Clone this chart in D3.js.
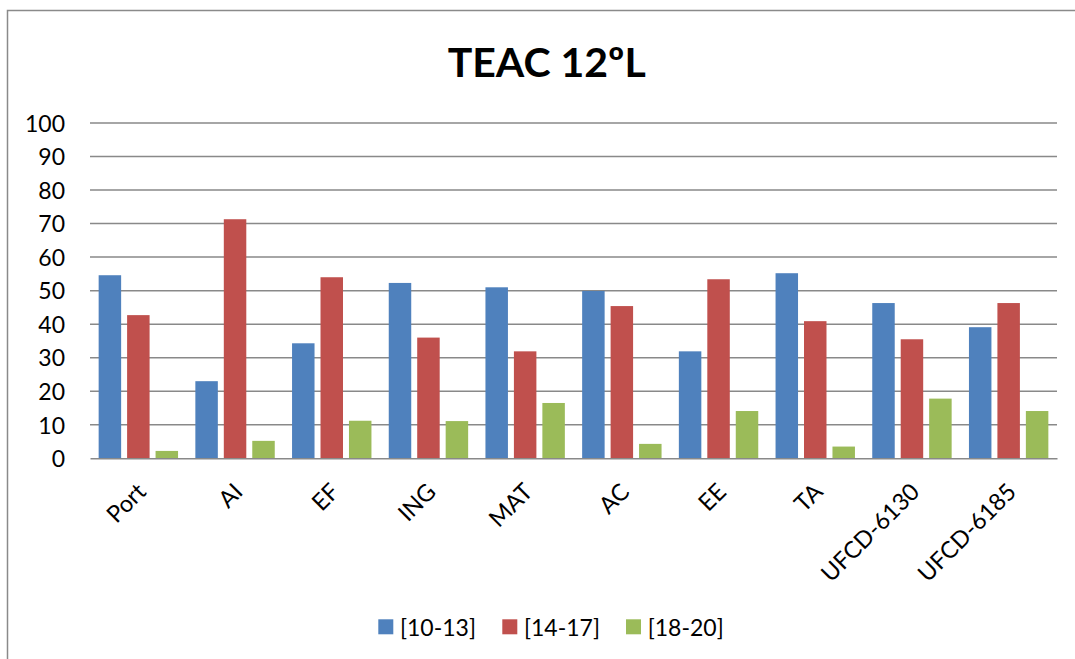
<!DOCTYPE html>
<html>
<head>
<meta charset="utf-8">
<script src="https://cdn.jsdelivr.net/npm/d3@7/dist/d3.min.js"></script>
<style>
  body { margin: 0; background: #fff; }
  svg { display: block; font-family: Lato, "Open Sans", sans-serif; }
</style>
</head>
<body>
<div id="chart"></div>
<script>
// categories (subjects) and the three grade bands
const subjects = ["Port", "AI", "EF", "ING", "MAT", "AC", "EE", "TA", "UFCD-6130", "UFCD-6185"];
const bands = ["[10-13]", "[14-17]", "[18-20]"];

// values, one array per band
const band1013 = [54.6, 23.0, 34.3, 52.3, 51.0, 49.9, 31.9, 55.2, 46.3, 39.1];
const band1417 = [42.7, 71.3, 54.0, 36.0, 31.9, 45.4, 53.4, 40.9, 35.5, 46.3];
const band1820 = [2.2, 5.2, 11.2, 11.1, 16.5, 4.3, 14.1, 3.5, 17.8, 14.1];

const yTicks = [0, 10, 20, 30, 40, 50, 60, 70, 80, 90, 100];

const colors = ["#4F81BD", "#C0504D", "#9BBB59"];

// build rows for the grouped bars
const rows = subjects.map((s, i) => ({
  subject: s,
  values: [band1013[i], band1417[i], band1820[i]]
}));

const width = 1075;
const height = 659;
const margin = { top: 123, right: 18, bottom: 200.7, left: 90 };
const graphWidth = width - margin.left - margin.right;
const graphHeight = height - margin.top - margin.bottom;

const svg = d3.select("#chart")
  .append("svg")
  .attr("width", width)
  .attr("height", height);

// outer frame of the chart (right and bottom edges run past the picture)
svg.append("rect")
  .attr("x", 7.5)
  .attr("y", 10.5)
  .attr("width", 1100)
  .attr("height", 700)
  .attr("fill", "none")
  .attr("stroke", "#8a8a8a")
  .attr("stroke-width", 1.5);

// title
svg.append("text")
  .attr("x", 546.7)
  .attr("y", 76.7)
  .attr("text-anchor", "middle")
  .attr("font-weight", "bold")
  .attr("font-size", 41)
  .attr("fill", "#000")
  .text("TEAC 12ºL");

const graph = svg.append("g")
  .attr("transform", `translate(${margin.left}, ${margin.top})`);

// scales
const y = d3.scaleLinear()
  .domain([0, 100])
  .range([graphHeight, 0]);

const x0 = d3.scaleBand()
  .domain(subjects)
  .range([0, graphWidth])
  .padding(0);

const groupPad = 8.65;
const x1 = d3.scaleBand()
  .domain(d3.range(bands.length))
  .range([groupPad, x0.bandwidth() - groupPad])
  .paddingInner(0.21)
  .paddingOuter(0);

// gridlines
graph.append("g")
  .selectAll("line")
  .data(yTicks.filter(d => d > 0))
  .join("line")
  .attr("x1", 0)
  .attr("x2", graphWidth)
  .attr("y1", d => y(d))
  .attr("y2", d => y(d))
  .attr("stroke", "#898989")
  .attr("stroke-width", 1.5);

// y axis labels (no axis line)
const yAxis = d3.axisLeft(y)
  .tickValues(yTicks)
  .tickSize(0)
  .tickPadding(25);

graph.append("g")
  .call(yAxis)
  .call(g => g.select(".domain").remove())
  .selectAll("text")
  .attr("font-size", 23)
  .attr("font-family", "Lato, sans-serif")
  .attr("fill", "#000")
  .attr("dy", "0.36em");

// bars
graph.append("g")
  .selectAll("g")
  .data(rows)
  .join("g")
  .attr("transform", d => `translate(${x0(d.subject)}, 0)`)
  .selectAll("rect")
  .data(d => d.values)
  .join("rect")
  .attr("x", (d, i) => x1(i))
  .attr("y", d => y(d))
  .attr("width", x1.bandwidth())
  .attr("height", d => graphHeight - y(d))
  .attr("fill", (d, i) => colors[i]);

// x axis
const xAxis = d3.axisBottom(x0).tickSize(0).tickPadding(0);

const xAxisGroup = graph.append("g")
  .attr("transform", `translate(0, ${graphHeight})`)
  .call(xAxis);

xAxisGroup.select(".domain")
  .attr("stroke", "#898989")
  .attr("stroke-width", 1.5);

// rotated labels, ending just right of each category centre
xAxisGroup.selectAll("text")
  .attr("font-size", 23.5)
  .attr("font-family", "Lato, sans-serif")
  .attr("fill", "#000")
  .attr("text-anchor", "end")
  .attr("dy", 0)
  .attr("transform", "translate(9, 35) rotate(-45)");

// legend
const legendX = [378.3, 502.3, 626];
const legend = svg.append("g")
  .selectAll("g")
  .data(bands)
  .join("g")
  .attr("transform", (d, i) => `translate(${legendX[i]}, 619.3)`);

legend.append("rect")
  .attr("width", 15)
  .attr("height", 15)
  .attr("fill", (d, i) => colors[i]);

legend.append("text")
  .attr("x", 21.7)
  .attr("y", 16.5)
  .attr("font-size", 23)
  .attr("fill", "#000")
  .text(d => d);
</script>
</body>
</html>
